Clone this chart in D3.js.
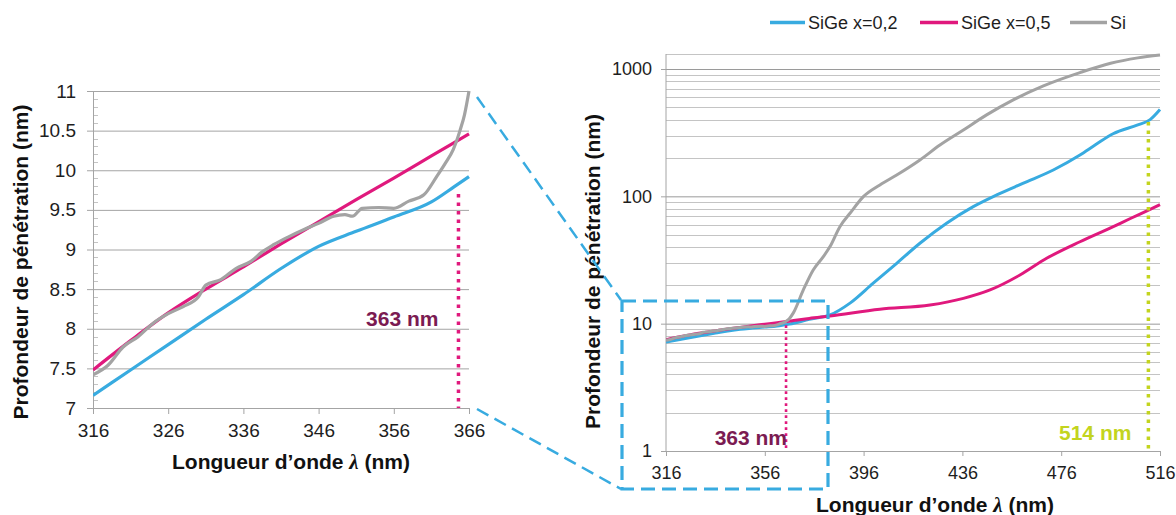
<!DOCTYPE html>
<html><head><meta charset="utf-8">
<script src="https://cdn.jsdelivr.net/npm/d3@7"></script>
<style>
html,body{margin:0;padding:0;background:#fff;}
svg{display:block;font-family:"Liberation Sans",Arial,sans-serif;}
</style></head><body>
<svg id="chart" width="1176" height="515"></svg>
<script>
// ---------------- DATA ----------------
const seriesNames = ["SiGe x=0,2", "SiGe x=0,5", "Si"];
const seriesColors = ["#38abe0", "#e0197d", "#a3a3a3"];

const lambdaBlue = [316, 321, 326, 331, 336, 341, 346, 351, 356, 361, 364, 366, 374, 382.4, 390.5, 399.9, 409.4, 418.8, 429.6, 440.4, 449.9, 460.7, 472.8, 483.6, 490, 497, 507, 512, 516];
const depthBlue  = [7.16, 7.48, 7.8, 8.12, 8.43, 8.76, 9.04, 9.23, 9.41, 9.6, 9.79, 9.92, 10.8, 11.7, 14.5, 20.8, 29.8, 42.8, 61.5, 83, 102.6, 127, 161, 211, 255, 310, 364, 400, 480];

const lambdaPink = [316, 321, 326, 331, 336, 341, 346, 351, 356, 361, 366, 374, 382.4, 402.6, 422.9, 436.4, 447.2, 459.3, 470.1, 483.6, 496, 504, 512, 516];
const depthPink  = [7.48, 7.85, 8.2, 8.5, 8.78, 9.07, 9.35, 9.63, 9.9, 10.18, 10.46, 11.0, 11.5, 13.0, 14.0, 15.8, 18.4, 24.1, 32.6, 44, 56.5, 67, 79, 86];

const lambdaGray = [316, 318, 320, 322, 324, 326, 328, 330, 331, 333, 335, 337, 338.5, 340, 342, 344, 346, 348, 349.5, 350.5, 351.8, 354, 356, 358, 360, 361.7, 362.8, 363.9, 364.8, 365.4, 366, 367.5, 371.6, 375.6, 379.7, 382.4, 386.4, 390.5, 395.9, 402.6, 409.4, 418.8, 426.9, 436.4, 445.8, 456.6, 468.8, 483.6, 496, 507, 516];
const depthGray  = [7.42, 7.54, 7.77, 7.9, 8.07, 8.19, 8.28, 8.4, 8.55, 8.62, 8.76, 8.85, 8.97, 9.06, 9.16, 9.25, 9.33, 9.42, 9.44, 9.42, 9.52, 9.53, 9.52, 9.61, 9.69, 9.92, 10.08, 10.26, 10.5, 10.7, 11.0, 12.1, 18.4, 26.4, 33.6, 40.3, 57.8, 73.6, 99.5, 123, 147, 193, 253, 332, 436, 572, 737, 937, 1110, 1223, 1290];

const leftXTicks  = [316, 326, 336, 346, 356, 366];
const leftYTicks  = [7, 7.5, 8, 8.5, 9, 9.5, 10, 10.5, 11];
const rightXTicks = [316, 356, 396, 436, 476, 516];
const rightYTicks = [1, 10, 100, 1000];

const markerLabels = ["363 nm", "514 nm"];
const markerLambda = [364.6, 511.3];
const markerTop    = [9.7, 384];
const markerColors = ["#e0197d", "#c3d41e"];
const markerTextColors = ["#7b1b52", "#c3d41e"];

const yTitle = "Profondeur de pénétration (nm)";
const xTitleA = "Longueur d\u2019onde ";
const xTitleL = "\u03bb";
const xTitleB = " (nm)";

// ---------------- LAYOUT ----------------
const svg = d3.select("#chart");
const L = {x0: 93, x1: 469, y0: 408, y1: 91};
const R = {x0: 666, x1: 1160, y0: 451, yTop: 54};

const xL = d3.scaleLinear().domain([316, 366]).range([L.x0, L.x1]);
const yL = d3.scaleLinear().domain([7, 11]).range([L.y0, L.y1]);
const xR = d3.scaleLinear().domain([316, 516]).range([R.x0, R.x1]);
const yR = d3.scaleLog().domain([1, 1000]).range([451, 69]);
const yRmax = yR.invert(R.yTop);

const series = [
  lambdaBlue.map((l, i) => [l, depthBlue[i]]),
  lambdaPink.map((l, i) => [l, depthPink[i]]),
  lambdaGray.map((l, i) => [l, depthGray[i]])
];

const defs = svg.append("defs");
defs.append("clipPath").attr("id", "clipL").append("rect")
  .attr("x", L.x0).attr("y", L.y1 - 2).attr("width", L.x1 - L.x0 + 2).attr("height", L.y0 - L.y1 + 2);
defs.append("clipPath").attr("id", "clipR").append("rect")
  .attr("x", R.x0).attr("y", R.yTop - 2).attr("width", R.x1 - R.x0 + 3).attr("height", R.y0 - R.yTop + 2);

const gridCol = "#a4a4a4";
const minorCol = "#c4c4c4";
const textCol = "#1e1e1e";

// ---------- LEFT CHART ----------
const gL = svg.append("g");
gL.append("g").selectAll("line")
  .data(d3.range(71, 110).map(v => v / 10).filter(v => Math.abs(v * 2 - Math.round(v * 2)) > 1e-6))
  .join("line")
  .attr("x1", L.x0).attr("x2", L.x0 + 5)
  .attr("y1", d => Math.round(yL(d)) + 0.5).attr("y2", d => Math.round(yL(d)) + 0.5)
  .attr("stroke", minorCol).attr("stroke-width", 1);
const gridL = gL.append("g").attr("transform", `translate(${L.x0},0)`)
  .call(d3.axisLeft(yL).tickValues(leftYTicks).tickSize(-(L.x1 - L.x0)).tickFormat(""));
gridL.select(".domain").remove();
gridL.selectAll("line").attr("stroke", gridCol);
const axYL = gL.append("g").attr("transform", `translate(${L.x0},0)`)
  .call(d3.axisLeft(yL).tickValues(leftYTicks).tickSize(6).tickPadding(11).tickFormat(d => String(d)));
axYL.select(".domain").attr("stroke", gridCol);
axYL.selectAll("line").attr("stroke", gridCol);
axYL.selectAll("text").attr("font-size", 19).attr("fill", textCol).attr("font-family", "Liberation Sans, Arial, sans-serif");
const axXL = gL.append("g").attr("transform", `translate(0,${L.y0})`)
  .call(d3.axisBottom(xL).tickValues(leftXTicks).tickSize(6).tickPadding(10).tickFormat(d => String(d)));
axXL.select(".domain").attr("stroke", gridCol);
axXL.selectAll("line").attr("stroke", gridCol);
axXL.selectAll("text").attr("font-size", 19).attr("fill", textCol).attr("font-family", "Liberation Sans, Arial, sans-serif");

const lineL = d3.line().x(d => xL(d[0])).y(d => yL(d[1])).curve(d3.curveMonotoneX);
gL.append("g").attr("clip-path", "url(#clipL)").selectAll("path")
  .data(series).join("path")
  .attr("d", d => lineL(d.filter(p => p[0] <= 366.5)))
  .attr("fill", "none").attr("stroke", (d, i) => seriesColors[i])
  .attr("stroke-width", 3.2).attr("stroke-linejoin", "round");

gL.append("line")
  .attr("x1", xL(markerLambda[0])).attr("x2", xL(markerLambda[0]))
  .attr("y1", yL(markerTop[0])).attr("y2", yL(7))
  .attr("stroke", markerColors[0]).attr("stroke-width", 3.5).attr("stroke-dasharray", "3.5,5");
gL.append("text").attr("x", xL(markerLambda[0]) - 20).attr("y", 326)
  .attr("text-anchor", "end").attr("font-size", 21).attr("font-weight", "bold")
  .attr("fill", markerTextColors[0]).text(markerLabels[0]);

gL.append("text").attr("transform", "translate(28,262) rotate(-90)")
  .attr("text-anchor", "middle").attr("font-size", 21).attr("font-weight", "bold").attr("fill", "#111")
  .text(yTitle);
const xtL = gL.append("text").attr("x", 291).attr("y", 469)
  .attr("text-anchor", "middle").attr("font-size", 21).attr("font-weight", "bold").attr("fill", "#111");
xtL.append("tspan").text(xTitleA);
xtL.append("tspan").attr("font-style", "italic").attr("font-family", "Liberation Serif, serif").text(xTitleL);
xtL.append("tspan").text(xTitleB);

// ---------- RIGHT CHART ----------
const gR = svg.append("g");
const minorVals = [];
[1, 10, 100].forEach(dec => { for (let k = 2; k <= 9; k++) minorVals.push(dec * k); });
gR.append("g").selectAll("line").data(minorVals).join("line")
  .attr("x1", R.x0).attr("x2", R.x1)
  .attr("y1", d => Math.round(yR(d)) + 0.5).attr("y2", d => Math.round(yR(d)) + 0.5)
  .attr("stroke", minorCol).attr("stroke-width", 1);
const gridR = gR.append("g").attr("transform", `translate(${R.x0},0)`)
  .call(d3.axisLeft(yR).tickValues(rightYTicks.slice(1)).tickSize(-(R.x1 - R.x0)).tickFormat(""));
gridR.select(".domain").remove();
gridR.selectAll("line").attr("stroke", "#9a9a9a");
gR.append("line").attr("x1", R.x0).attr("x2", R.x1).attr("y1", yR(yRmax) + 0.5).attr("y2", yR(yRmax) + 0.5)
  .attr("stroke", minorCol);
const axYR = gR.append("g").attr("transform", `translate(${R.x0},0)`)
  .call(d3.axisLeft(yR).tickValues(rightYTicks).tickSize(5).tickPadding(9).tickFormat(d => String(d)));
axYR.select(".domain").attr("d", `M0,${R.y0}V${R.yTop}`).attr("stroke", gridCol);
axYR.selectAll("line").attr("stroke", gridCol);
axYR.selectAll("text").attr("font-size", 18).attr("fill", textCol).attr("font-family", "Liberation Sans, Arial, sans-serif");
const axXR = gR.append("g").attr("transform", `translate(0,${R.y0})`)
  .call(d3.axisBottom(xR).tickValues(rightXTicks).tickSize(5).tickPadding(10.5).tickFormat(d => String(d)));
axXR.select(".domain").attr("stroke", gridCol);
axXR.selectAll("line").attr("stroke", gridCol);
axXR.selectAll("text").attr("font-size", 18).attr("fill", textCol).attr("font-family", "Liberation Sans, Arial, sans-serif");

const lineR = d3.line().x(d => xR(d[0])).y(d => yR(d[1])).curve(d3.curveMonotoneX);
gR.append("g").attr("clip-path", "url(#clipR)").selectAll("path")
  .data(series).join("path")
  .attr("d", d => lineR(d))
  .attr("fill", "none").attr("stroke", (d, i) => seriesColors[i])
  .attr("stroke-width", 3).attr("stroke-linejoin", "round");

gR.append("line")
  .attr("x1", xR(markerLambda[0])).attr("x2", xR(markerLambda[0]))
  .attr("y1", yR(markerTop[0])).attr("y2", yR(1))
  .attr("stroke", markerColors[0]).attr("stroke-width", 2.6).attr("stroke-dasharray", "2.6,3.4");
gR.append("line")
  .attr("x1", xR(markerLambda[1])).attr("x2", xR(markerLambda[1]))
  .attr("y1", yR(markerTop[1])).attr("y2", yR(1))
  .attr("stroke", markerColors[1]).attr("stroke-width", 3.5).attr("stroke-dasharray", "3.5,5");
gR.append("text").attr("x", xR(markerLambda[0]) + 1).attr("y", 445)
  .attr("text-anchor", "end").attr("font-size", 21).attr("font-weight", "bold")
  .attr("fill", markerTextColors[0]).text(markerLabels[0]);
gR.append("text").attr("x", xR(markerLambda[1]) - 17).attr("y", 440)
  .attr("text-anchor", "end").attr("font-size", 21).attr("font-weight", "bold")
  .attr("fill", markerTextColors[1]).text(markerLabels[1]);

gR.append("text").attr("transform", "translate(600,271.5) rotate(-90)")
  .attr("text-anchor", "middle").attr("font-size", 21).attr("font-weight", "bold").attr("fill", "#111")
  .text(yTitle);
const xtR = gR.append("text").attr("x", 935).attr("y", 511.5)
  .attr("text-anchor", "middle").attr("font-size", 21).attr("font-weight", "bold").attr("fill", "#111");
xtR.append("tspan").text(xTitleA);
xtR.append("tspan").attr("font-style", "italic").attr("font-family", "Liberation Serif, serif").text(xTitleL);
xtR.append("tspan").text(xTitleB);

// ---------- ZOOM BOX & CONNECTORS ----------
const boxCol = "#38abe0";
svg.append("rect").attr("x", 622).attr("y", 301).attr("width", 206).attr("height", 188)
  .attr("fill", "none").attr("stroke", boxCol).attr("stroke-width", 3.2).attr("stroke-dasharray", "14,7");
svg.append("line").attr("x1", 477).attr("y1", 97).attr("x2", 621).attr("y2", 300)
  .attr("stroke", boxCol).attr("stroke-width", 2.5).attr("stroke-dasharray", "13,7");
svg.append("line").attr("x1", 477).attr("y1", 409).attr("x2", 621).attr("y2", 489)
  .attr("stroke", boxCol).attr("stroke-width", 2.5).attr("stroke-dasharray", "13,7");

// ---------- LEGEND ----------
const legX = [770, 920, 1070];
const legW = [35, 38, 37];
const leg = svg.append("g");
seriesNames.forEach((n, i) => {
  leg.append("line").attr("x1", legX[i]).attr("x2", legX[i] + legW[i]).attr("y1", 22.5).attr("y2", 22.5)
    .attr("stroke", seriesColors[i]).attr("stroke-width", 3.5);
  leg.append("text").attr("x", legX[i] + legW[i] + 3).attr("y", 29.3)
    .attr("font-size", 18).attr("fill", textCol).text(n);
});
</script>
</body></html>
